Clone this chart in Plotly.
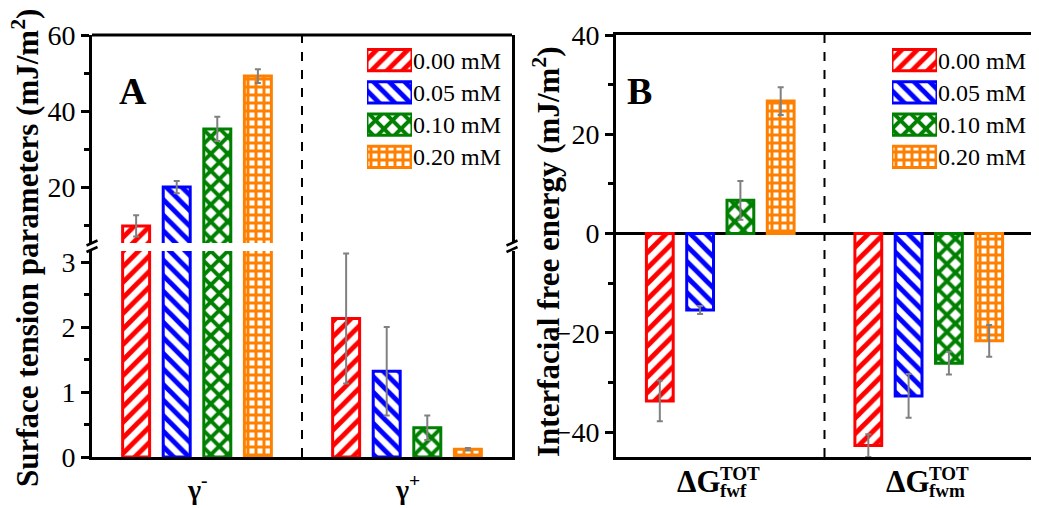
import plotly.graph_objects as go

# ---------------- data ----------------
series = ["0.00 mM", "0.05 mM", "0.10 mM", "0.20 mM"]
colors = ["#FF0000", "#0000FF", "#008000", "#FF8000"]
patterns = ["/", "\\", "x", "+"]
pat_size = [11, 11, 12, 8]
pat_solid = [0.45, 0.45, 0.55, 0.6]

cats_a = ["g-", "g+"]
cats_a_text = ["γ<sup>-</sup>", "γ<sup>+</sup>"]
gamma_minus = [9.8, 20.0, 35.3, 49.2]
gamma_minus_err = [2.8, 1.6, 3.2, 1.8]
gamma_plus = [2.13, 1.32, 0.45, 0.12]
gamma_plus_err = [1.0, 0.68, 0.19, 0.02]

cats_b = ["fwf", "fwm"]
dg_fwf = [-33.7, -15.4, 6.7, 26.7]
dg_fwf_err = [4.1, 0.8, 3.9, 2.8]
dg_fwm = [-42.7, -32.7, -26.1, -21.6]
dg_fwm_err = [2.3, 4.4, 2.3, 3.2]

swatch = [1, 1, 1, 1]

# ---------------- layout helpers ----------------
# the page body adds an 8 px offset; map window pixels to figure paper coords
OFF = 8
W, H = 1039 - OFF, 508 - OFF
def px(x):
    return (x - OFF) / W
def py(y):
    return 1 - (y - OFF) / H

FONT = "Liberation Serif"
A_X = [px(92), px(512)]
A_YLO = [py(457), py(251)]
A_YUP = [py(243), py(35)]
B_X = [px(616), px(1033)]
B_Y = [py(457), py(35)]
LEG_Y = [py(173), py(44)]
LEGA_X = [px(367), px(412)]
LEGB_X = [px(892), px(937)]

fig = go.Figure()

def bar(x, y, err, i, xa, ya):
    return go.Bar(
        x=x, y=y, xaxis=xa, yaxis=ya, name=series[i], showlegend=False,
        marker=dict(color="white", line=dict(color=colors[i], width=3),
                    pattern=dict(shape=patterns[i], fgcolor=colors[i], fgopacity=1,
                                 size=pat_size[i], solidity=pat_solid[i])),
        error_y=dict(type="data", array=err, color="#808080", thickness=2, width=3),
    )

for i in range(4):
    vals = [gamma_minus[i], gamma_plus[i]]
    errs = [gamma_minus_err[i], gamma_plus_err[i]]
    fig.add_trace(bar(cats_a, vals, errs, i, "x", "y"))
    fig.add_trace(bar(cats_a, vals, errs, i, "x", "y2"))
    fig.add_trace(bar(cats_b, [dg_fwf[i], dg_fwm[i]], [dg_fwf_err[i], dg_fwm_err[i]], i, "x2", "y3"))

# legend swatches as horizontal bars
for xa, ya in (("x3", "y4"), ("x4", "y5")):
    fig.add_trace(go.Bar(
        x=swatch, y=series, orientation="h", xaxis=xa, yaxis=ya, width=0.66,
        showlegend=False, hoverinfo="skip",
        marker=dict(color="white", line=dict(color=colors, width=3),
                    pattern=dict(shape=patterns, fgcolor=colors, fgopacity=1,
                                 size=pat_size, solidity=pat_solid)),
    ))

tickfont = dict(family=FONT, size=28, color="black")
yax_common = dict(showline=True, linecolor="black", linewidth=3, mirror=True,
                  ticks="outside", ticklen=8, tickwidth=2.5, tickcolor="black",
                  showgrid=False, tickfont=tickfont, fixedrange=True, automargin=False)
minor_common = dict(ticks="outside", ticklen=5, tickwidth=2.5, tickcolor="black")
legy = dict(side="right", type="category", categoryorder="array", categoryarray=series,
            range=[3.5, -0.5], showline=False, showgrid=False, ticks="", zeroline=False,
            tickfont=dict(family=FONT, size=24, color="black"), fixedrange=True, automargin=False)

fig.update_layout(
    width=W, height=H, margin=dict(l=0, r=0, t=0, b=0, autoexpand=False),
    paper_bgcolor="white", plot_bgcolor="white",
    barmode="group", bargap=0.227, bargroupgap=0.335,
    font=dict(family=FONT, color="black"),
    xaxis=dict(domain=A_X, anchor="y", type="category", categoryorder="array",
               categoryarray=cats_a, showticklabels=False, ticks="", automargin=False,
               showline=True, linecolor="black", linewidth=3, showgrid=False, fixedrange=True),
    yaxis=dict(domain=A_YLO, anchor="x", range=[0, 3.17], dtick=1, tick0=0, zeroline=False,
               minor=dict(dtick=0.5, **minor_common), **yax_common),
    yaxis2=dict(domain=A_YUP, anchor="x", range=[5.3, 60], dtick=20, tick0=0, zeroline=False,
                minor=dict(dtick=10, **minor_common), **yax_common),
    xaxis2=dict(domain=B_X, anchor="y3", type="category", categoryorder="array",
                categoryarray=cats_b, showticklabels=False, ticks="", automargin=False,
                showline=True, linecolor="black", linewidth=3, mirror=True, showgrid=False,
                fixedrange=True),
    yaxis3=dict(domain=B_Y, anchor="x2", range=[-45, 40], dtick=20, tick0=0,
                minor=dict(dtick=10, **minor_common), **yax_common,
                zeroline=True, zerolinecolor="black", zerolinewidth=2.5),
    xaxis3=dict(domain=LEGA_X, anchor="y4", range=[0, 1], visible=False, fixedrange=True),
    yaxis4=dict(domain=LEG_Y, anchor="x3", **legy),
    xaxis4=dict(domain=LEGB_X, anchor="y5", range=[0, 1], visible=False, fixedrange=True),
    yaxis5=dict(domain=LEG_Y, anchor="x4", **legy),
)

shapes = []
# top frame of panel A
shapes.append(dict(type="line", xref="paper", yref="paper", x0=A_X[0], x1=A_X[1],
                   y0=A_YUP[1], y1=A_YUP[1], line=dict(color="black", width=3)))
# dashed dividers
shapes.append(dict(type="line", xref="x", yref="paper", x0=0.5, x1=0.5,
                   y0=A_YLO[0], y1=A_YUP[1], line=dict(color="black", width=2, dash="dash")))
shapes.append(dict(type="line", xref="x2", yref="paper", x0=0.5, x1=0.5,
                   y0=B_Y[0], y1=B_Y[1], line=dict(color="black", width=2, dash="dash")))
# axis-break marks
for xc in (92, 512):
    for yc in (243, 249.5):
        shapes.append(dict(type="line", xref="paper", yref="paper",
                           x0=px(xc - 5.5), x1=px(xc + 5.5), y0=py(yc + 2.5), y1=py(yc - 2.5),
                           line=dict(color="black", width=2.5)))
fig.update_layout(shapes=shapes)

ann = []
# axis titles
ann.append(dict(text="<b>Surface tension parameters (mJ/m<sup>2</sup>)</b>", xref="paper", yref="paper",
                x=px(25), y=py(248), textangle=-90, showarrow=False,
                font=dict(family=FONT, size=31, color="black"), xanchor="center", yanchor="middle"))
ann.append(dict(text="<b>Interfacial free energy (mJ/m<sup>2</sup>)</b>", xref="paper", yref="paper",
                x=px(546), y=py(252), textangle=-90, showarrow=False,
                font=dict(family=FONT, size=31, color="black"), xanchor="center", yanchor="middle"))
# panel letters
ann.append(dict(text="<b>A</b>", xref="paper", yref="paper", x=px(117), y=py(68), showarrow=False,
                font=dict(family=FONT, size=38, color="black")))
ann.append(dict(text="<b>B</b>", xref="paper", yref="paper", x=px(639), y=py(68), showarrow=False,
                font=dict(family=FONT, size=38, color="black")))
# category labels panel A
for c, t in zip(cats_a, cats_a_text):
    ann.append(dict(text="<b>" + t + "</b>", xref="x", yref="paper", x=c, y=py(487), showarrow=False,
                    font=dict(family=FONT, size=28, color="black"), yanchor="middle"))
# category labels panel B
for c in cats_b:
    ann.append(dict(text="<b>ΔG</b>", xref="x2", yref="paper", x=c, y=py(481), showarrow=False,
                    xanchor="right", yanchor="middle", xshift=3,
                    font=dict(family=FONT, size=31, color="black")))
    ann.append(dict(text="<b>TOT</b>", xref="x2", yref="paper", x=c, y=py(473), showarrow=False,
                    xanchor="left", yanchor="middle", xshift=-2,
                    font=dict(family=FONT, size=19, color="black")))
    ann.append(dict(text="<b>" + c + "</b>", xref="x2", yref="paper", x=c, y=py(490), showarrow=False,
                    xanchor="left", yanchor="middle", xshift=-2,
                    font=dict(family=FONT, size=19, color="black")))
fig.update_layout(annotations=ann)

fig.write_html("out.html")
